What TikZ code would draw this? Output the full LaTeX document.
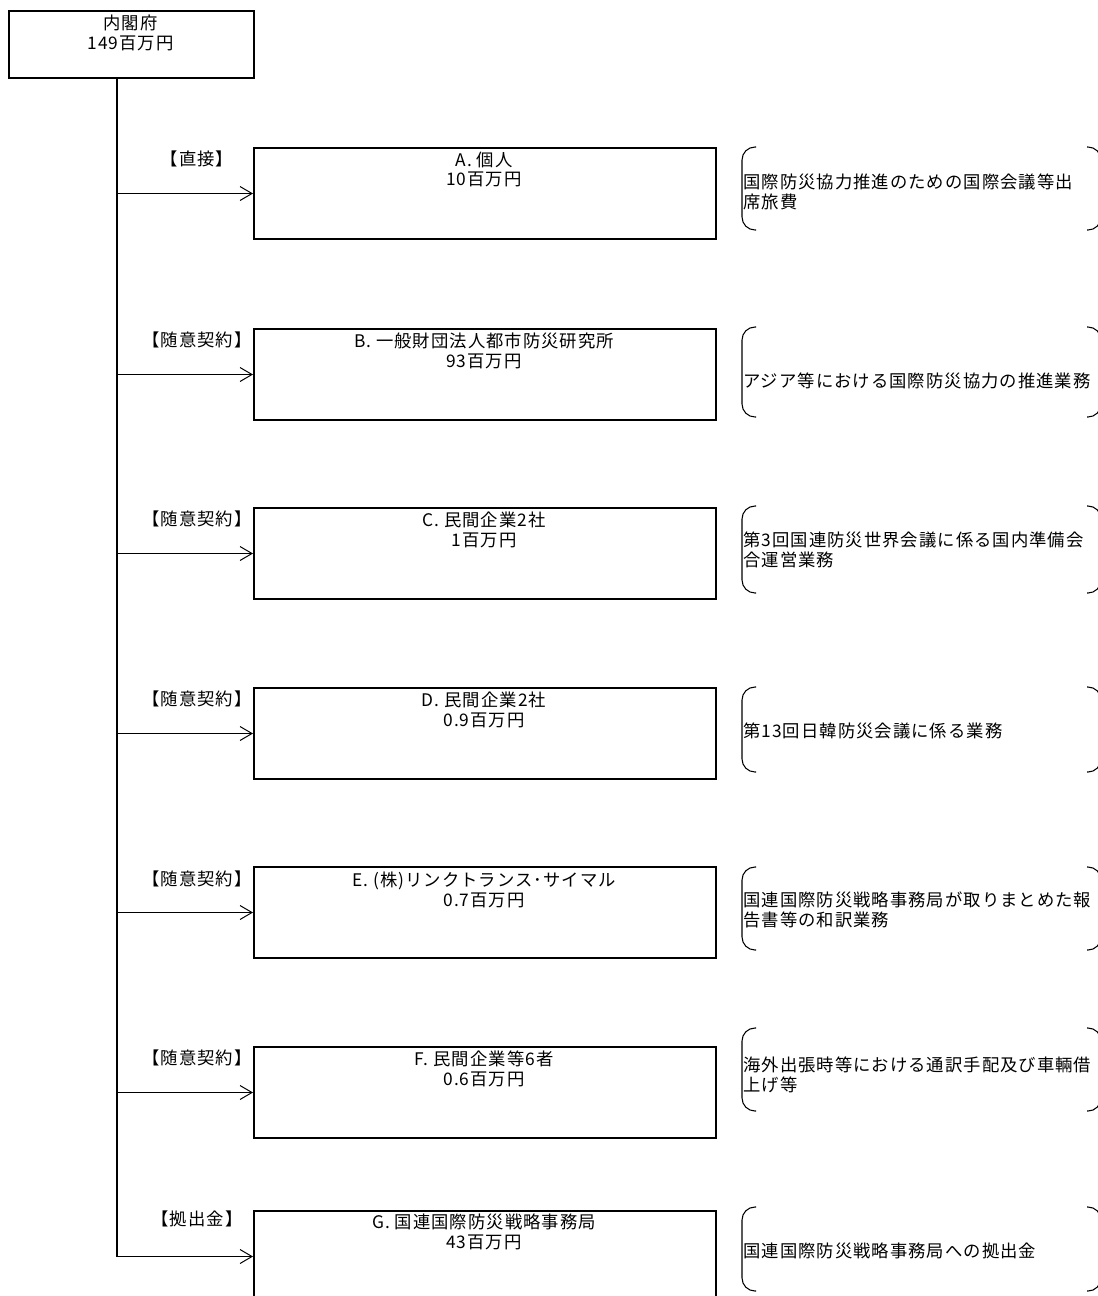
\documentclass[tikz,border=0pt]{standalone}
\usepackage{fontspec}
\setmainfont{Noto Sans CJK JP}[LetterSpace=6]
\usetikzlibrary{arrows.meta}
\tikzset{
  fnt/.style={font=\fontsize{13}{14.4}\selectfont},
  dfnt/.style={font=\fontsize{13}{15}\selectfont},
  box/.style={draw, line width=1.5pt, minimum width=346.5pt, minimum height=68.25pt, anchor=north west, inner sep=0pt},
  topbox/.style={draw, line width=1.5pt, minimum width=183.75pt, minimum height=50.25pt, anchor=north west, inner sep=0pt},
  boxtext/.style={fnt, align=center, anchor=north, inner sep=0pt},
  kind/.style={fnt, anchor=center, inner sep=0pt},
  desc/.style={dfnt, anchor=west, align=left, inner sep=0pt},
  flow/.style={line width=0.75pt, -{Straight Barb[length=9pt,width=10.5pt,line width=0.75pt]}},
  trunk/.style={line width=1.3pt},
  brk/.style={line width=0.8pt, rounded corners=9.75pt},
}
\begin{document}
\begin{tikzpicture}[x=0.75pt,y=-0.75pt]
\useasboundingbox (0,0) rectangle (1098,1296);
\clip (0,0) rectangle (1098,1296);
\fill[white] (0,0) rectangle (1098,1296);

% top box
\node[topbox] (top) at (8,10) {};
\node[boxtext] (topt) at (130.5,15) {内閣府\\149百万円};
\coordinate (j) at (117,0);

% boxes
\node[box] (bA) at (253,147) {};
\node[box] (bB) at (253,328) {};
\node[box] (bC) at (253,507) {};
\node[box] (bD) at (253,687) {};
\node[box] (bE) at (253,866) {};
\node[box] (bF) at (253,1046) {};
\node[box] (bG) at (253,1210) {};

\node[boxtext] (tA) at (484,152) {A. 個人\\10百万円};
\node[boxtext] (tB) at (484,333) {B. 一般財団法人都市防災研究所\\93百万円};
\node[boxtext] (tC) at (484,512) {C. 民間企業2社\\1百万円};
\node[boxtext] (tD) at (484,692) {D. 民間企業2社\\0.9百万円};
\node[boxtext] (tE) at (484,872) {E. (株)リンクトランス･サイマル\\0.7百万円};
\node[boxtext] (tF) at (484,1051) {F. 民間企業等6者\\0.6百万円};
\node[boxtext] (tG) at (484,1214) {G. 国連国際防災戦略事務局\\43百万円};

% kind labels
\node[kind] (kA) at (197,159) {【直接】};
\node[kind] (kB) at (197,340) {【随意契約】};
\node[kind] (kC) at (197,519) {【随意契約】};
\node[kind] (kD) at (197,699) {【随意契約】};
\node[kind] (kE) at (197,879) {【随意契約】};
\node[kind] (kF) at (197,1058) {【随意契約】};
\node[kind] (kG) at (197,1219) {【拠出金】};

% trunk and arrows
\draw[trunk] (top.south -| j) -- (bG.west -| j);
\foreach \b in {bA,bB,bC,bD,bE,bF,bG}
  \draw[flow] (\b.west -| j) -- (\b.west);

% brackets
\foreach \t/\bt in {147/230, 327/417, 506/593, 687/772, 867/950, 1028/1111, 1207/1291}{
  \draw[brk] (756,\t) -- (742,\t) -- (742,\bt) -- (756,\bt);
  \draw[brk] (1087,\t) -- (1101,\t) -- (1101,\bt) -- (1087,\bt);
}

% descriptions
\node[desc] (dA) at (743,192) {国際防災協力推進のための国際会議等出\\席旅費};
\node[desc] (dB) at (743,381) {アジア等における国際防災協力の推進業務};
\node[desc] (dC) at (743,550) {第3回国連防災世界会議に係る国内準備会\\合運営業務};
\node[desc] (dD) at (743,731) {第13回日韓防災会議に係る業務};
\node[desc] (dE) at (743,910) {国連国際防災戦略事務局が取りまとめた報\\告書等の和訳業務};
\node[desc] (dF) at (743,1075) {海外出張時等における通訳手配及び車輛借\\上げ等};
\node[desc] (dG) at (743,1251) {国連国際防災戦略事務局への拠出金};
\end{tikzpicture}
\end{document}
